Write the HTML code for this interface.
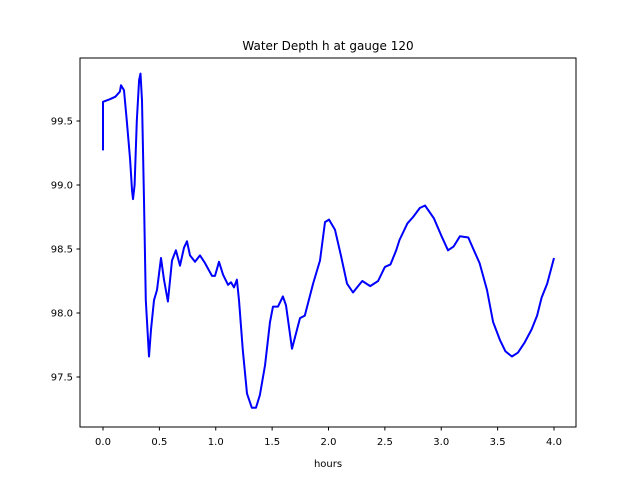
<!DOCTYPE html>
<html><head><meta charset="utf-8"><style>
body{margin:0;background:#fff}
svg text{font-family:"DejaVu Sans","Liberation Sans",sans-serif;font-size:10px;fill:#000}
</style></head><body>
<svg id="chart" width="640" height="480" viewBox="0 0 640 480" xmlns="http://www.w3.org/2000/svg">
<rect width="640" height="480" fill="#fff"/>
<text x="328" y="50" text-anchor="middle" style="font-size:12px">Water Depth h at gauge 120</text>
<g id="ticks"></g>
<polyline id="series" fill="none" stroke="#0000ff" stroke-width="2" stroke-linejoin="round"/>
<rect x="80" y="58" width="496" height="369" fill="none" stroke="#000" stroke-width="1"/>
<text x="328" y="467" text-anchor="middle">hours</text>
</svg>
<script>
const hours=[0,0,0.062,0.11,0.15,0.16,0.186,0.21,0.24,0.257,0.266,0.28,0.30,0.32,0.333,0.346,0.364,0.38,0.408,0.426,0.452,0.479,0.514,0.541,0.576,0.612,0.647,0.683,0.718,0.745,0.772,0.816,0.86,0.905,0.967,0.993,1.029,1.064,1.109,1.135,1.162,1.188,1.206,1.24,1.277,1.32,1.357,1.392,1.437,1.481,1.508,1.552,1.596,1.623,1.676,1.747,1.79,1.863,1.925,1.969,2.004,2.058,2.11,2.164,2.217,2.28,2.30,2.37,2.44,2.50,2.55,2.60,2.63,2.70,2.75,2.81,2.856,2.935,2.998,3.06,3.11,3.166,3.24,3.29,3.34,3.406,3.46,3.52,3.57,3.627,3.68,3.74,3.80,3.85,3.89,3.94,4.0];
const depth=[99.27,99.65,99.67,99.69,99.73,99.78,99.74,99.51,99.2,98.96,98.89,99.0,99.5,99.82,99.87,99.66,98.88,98.1,97.66,97.87,98.1,98.18,98.43,98.26,98.09,98.41,98.49,98.37,98.51,98.56,98.45,98.40,98.45,98.39,98.29,98.29,98.40,98.30,98.22,98.24,98.2,98.26,98.1,97.71,97.37,97.26,97.26,97.36,97.59,97.93,98.05,98.05,98.13,98.06,97.72,97.96,97.98,98.23,98.41,98.71,98.73,98.65,98.45,98.23,98.16,98.23,98.25,98.21,98.25,98.36,98.38,98.49,98.57,98.70,98.75,98.82,98.84,98.74,98.61,98.49,98.52,98.6,98.59,98.49,98.39,98.18,97.93,97.79,97.70,97.66,97.69,97.77,97.87,97.98,98.12,98.23,98.43];
const xTicks=[0,0.5,1,1.5,2,2.5,3,3.5,4];
const xTickLabels=["0.0","0.5","1.0","1.5","2.0","2.5","3.0","3.5","4.0"];
const yTicks=[97.5,98,98.5,99,99.5];
const yTickLabels=["97.5","98.0","98.5","99.0","99.5"];
const X=h=>103+h*112.75;
const Y=v=>121+(99.5-v)*128;
const NS="http://www.w3.org/2000/svg";
const g=document.getElementById('ticks');
xTicks.forEach((t,i)=>{
  const l=document.createElementNS(NS,'line');
  
  
  l.setAttribute('x1',X(t));l.setAttribute('x2',X(t));l.setAttribute('y1',427);l.setAttribute('y2',430.5);l.setAttribute('stroke','#000');
  g.appendChild(l);
  const tx=document.createElementNS(NS,'text');
  
  
  tx.setAttribute('x',X(t));tx.setAttribute('y',445);tx.setAttribute('text-anchor','middle');
  tx.textContent=xTickLabels[i];g.appendChild(tx);
});
yTicks.forEach((t,i)=>{
  const l=document.createElementNS(NS,'line');
  
  
  l.setAttribute('x1',76.5);l.setAttribute('x2',80);l.setAttribute('y1',Y(t));l.setAttribute('y2',Y(t));l.setAttribute('stroke','#000');
  g.appendChild(l);
  const tx=document.createElementNS(NS,'text');
  
  
  tx.setAttribute('x',73);tx.setAttribute('y',Y(t)+3.5);tx.setAttribute('text-anchor','end');
  tx.textContent=yTickLabels[i];g.appendChild(tx);
});
document.getElementById('series').setAttribute('points',hours.map((h,i)=>X(h).toFixed(1)+','+Y(depth[i]).toFixed(1)).join(' '));
</script>
</body></html>
